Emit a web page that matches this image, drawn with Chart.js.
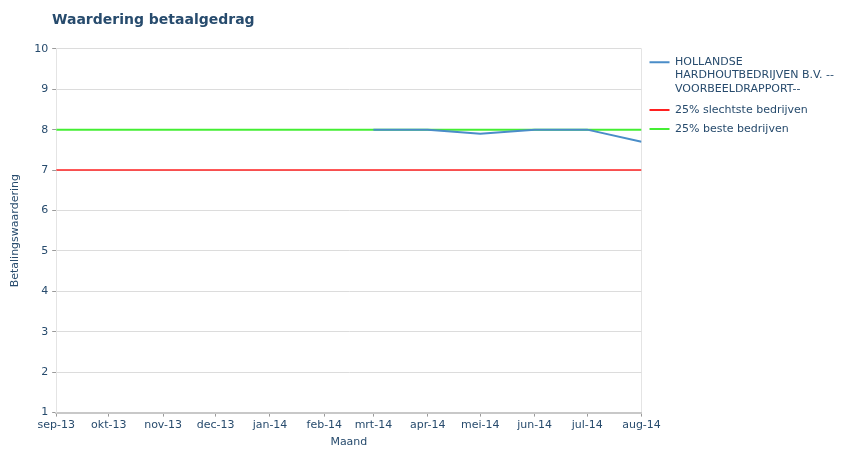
<!DOCTYPE html>
<html>
<head>
<meta charset="utf-8">
<script src="https://cdn.jsdelivr.net/npm/chart.js@4.4.0/dist/chart.umd.min.js"></script>
<style>
  html, body { margin: 0; padding: 0; background: #fff; }
  #wrap { width: 858px; height: 450px; position: relative; }
</style>
</head>
<body>
<div id="wrap"><canvas id="chart"></canvas></div>
<script>
// DATA
var months = ['2013-09', '2013-10', '2013-11', '2013-12', '2014-01', '2014-02',
              '2014-03', '2014-04', '2014-05', '2014-06', '2014-07', '2014-08'];
var monthLabels = ['sep-13', 'okt-13', 'nov-13', 'dec-13', 'jan-14', 'feb-14',
                   'mrt-14', 'apr-14', 'mei-14', 'jun-14', 'jul-14', 'aug-14'];
var companyValues = [null, null, null, null, null, null, 8, 8, 7.9, 8, 8, 7.7];
var worstValues = [7, 7, 7, 7, 7, 7, 7, 7, 7, 7, 7, 7];
var bestValues = [8, 8, 8, 8, 8, 8, 8, 8, 8, 8, 8, 8];

var companyName = 'HOLLANDSE HARDHOUTBEDRIJVEN B.V. --VOORBEELDRAPPORT--';
var companyLines = ['HOLLANDSE', 'HARDHOUTBEDRIJVEN B.V. --', 'VOORBEELDRAPPORT--'];

var textColor = '#274b6d';
var fontFamily = '"DejaVu Sans", Verdana, sans-serif';

// months as day offsets, so the axis is spaced like a time axis
var start = Date.UTC(2013, 8, 1);
var days = months.map(function(m) {
    var p = m.split('-');
    return Math.round((Date.UTC(+p[0], +p[1] - 1, 1) - start) / 86400000);
});

function points(values) {
    return values.map(function(v, i) { return {x: days[i], y: v}; });
}

// put the title in line with the plot instead of the canvas edge
var titleShift = {
    id: 'titleShift',
    afterLayout: function(chart) {
        chart.titleBlock.left = 52;
    }
};

window.onload = function() {
    createChart();
};

function createChart() {
    var ctx = document.getElementById('chart').getContext('2d');
    new Chart(ctx, {
        type: 'line',
        data: {
            datasets: [{
                label: companyName,
                data: points(companyValues),
                borderColor: '#4a8dc8',
                borderWidth: 2,
                pointRadius: 0,
                spanGaps: false
            }, {
                label: '25% slechtste bedrijven',
                data: points(worstValues),
                borderColor: '#ff2020',
                borderWidth: 1.5,
                pointRadius: 0
            }, {
                label: '25% beste bedrijven',
                data: points(bestValues),
                borderColor: '#44ee33',
                borderWidth: 2,
                pointRadius: 0
            }]
        },
        plugins: [titleShift],
        options: {
            responsive: true,
            maintainAspectRatio: false,
            animation: false,
            layout: {
                padding: {top: 4, right: 14, left: 9, bottom: 1}
            },
            scales: {
                x: {
                    type: 'linear',
                    min: days[0],
                    max: days[days.length - 1],
                    afterBuildTicks: function(axis) {
                        axis.ticks = days.map(function(d) { return {value: d}; });
                    },
                    ticks: {
                        autoSkip: false,
                        maxRotation: 0,
                        color: textColor,
                        font: {family: fontFamily, size: 11},
                        padding: 2,
                        callback: function(value) {
                            return monthLabels[days.indexOf(value)];
                        }
                    },
                    grid: {
                        color: function(c) {
                            return (c.index === 0 || c.index === days.length - 1) ? '#e4e4e4' : 'rgba(0,0,0,0)';
                        },
                        tickColor: '#9a9a9a',
                        tickLength: 4
                    },
                    border: {color: '#c8c8c8', width: 2},
                    title: {
                        display: true,
                        text: 'Maand',
                        color: textColor,
                        font: {family: fontFamily, size: 11},
                        padding: {top: 2, bottom: 0}
                    }
                },
                y: {
                    min: 1,
                    max: 10,
                    ticks: {
                        stepSize: 1,
                        color: textColor,
                        font: {family: fontFamily, size: 11},
                        padding: 4
                    },
                    grid: {
                        color: '#dcdcdc',
                        tickColor: '#9a9a9a',
                        tickLength: 4
                    },
                    border: {color: '#e4e4e4'},
                    title: {
                        display: true,
                        text: 'Betalingswaardering',
                        color: textColor,
                        font: {family: fontFamily, size: 11},
                        padding: {top: 0, bottom: 8}
                    }
                }
            },
            plugins: {
                title: {
                    display: true,
                    text: 'Waardering betaalgedrag',
                    align: 'start',
                    color: textColor,
                    font: {family: fontFamily, size: 14, weight: 'bold'},
                    padding: {top: 8, bottom: 20}
                },
                legend: {
                    position: 'right',
                    align: 'start',
                    fullSize: false,
                    labels: {
                        boxWidth: 20,
                        boxHeight: 2,
                        color: textColor,
                        font: {family: fontFamily, size: 11},
                        padding: 8,
                        generateLabels: function(chart) {
                            var items = Chart.defaults.plugins.legend.labels.generateLabels(chart);
                            items.forEach(function(item) {
                                item.fillStyle = item.strokeStyle;
                                item.lineWidth = 0;
                                if (item.datasetIndex === 0) item.text = companyLines;
                            });
                            return items;
                        }
                    }
                },
                tooltip: {enabled: false}
            }
        }
    });
}
</script>
</body>
</html>
